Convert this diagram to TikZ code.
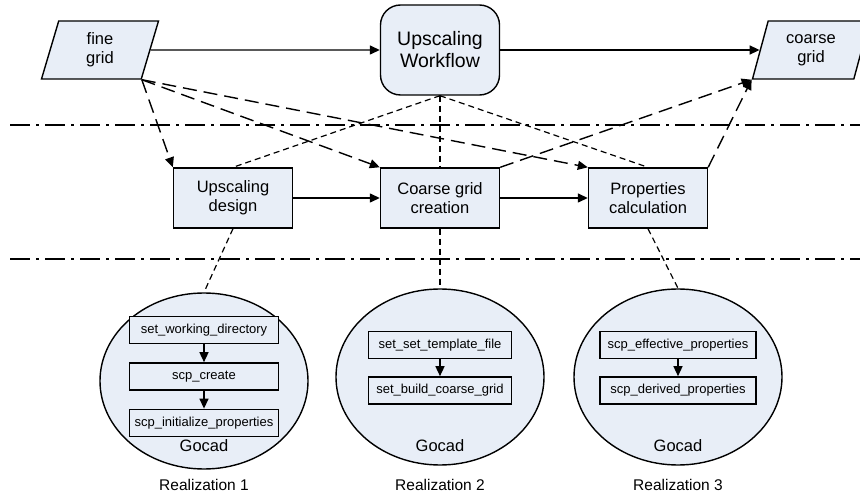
\documentclass[tikz,border=0pt]{standalone}
\usepackage{fontspec}
\setmainfont{Liberation Sans}
\usetikzlibrary{shapes.geometric, arrows.meta, positioning}

\definecolor{boxfill}{RGB}{232,238,247}

\begin{document}
\begin{tikzpicture}[x=1pt, y=-1pt, >={Triangle[length=10pt,width=9pt]}, line width=1.4pt]
    % Styles
    \tikzstyle{io} = [draw, trapezium, trapezium left angle=63.4, trapezium right angle=116.6, trapezium stretches body, fill=boxfill, minimum width=117pt, minimum height=58pt, inner sep=0pt, align=center, font=\fontsize{16.5}{19}\selectfont]
    \tikzstyle{flow} = [draw, rectangle, rounded corners=20pt, fill=boxfill, minimum width=119pt, minimum height=90pt, align=center, font=\fontsize{19.5}{22}\selectfont]
    \tikzstyle{proc} = [draw, rectangle, fill=boxfill, minimum width=119pt, minimum height=60pt, align=center, font=\fontsize{16.5}{19}\selectfont]
    \tikzstyle{realiz} = [draw, ellipse, fill=boxfill, minimum width=208pt, minimum height=176pt, inner sep=0pt]
    \tikzstyle{task} = [draw, rectangle, fill=boxfill, minimum height=27pt, inner sep=0pt, font=\fontsize{13}{15}\selectfont]
    \tikzstyle{tool} = [font=\fontsize{16.5}{19}\selectfont]
    \tikzstyle{caption} = [font=\fontsize{15.5}{18}\selectfont]
    \tikzstyle{data} = [dash pattern=on 14pt off 7pt]
    \tikzstyle{link} = [line width=1.2pt, dash pattern=on 6pt off 4pt]
    \tikzstyle{level} = [dash pattern=on 20pt off 6pt on 3pt off 6pt]

    \useasboundingbox (0,0) rectangle (860,497);

    % Top level
    \node (fine) [io] at (100,50) {fine\\grid};
    \node (flow) [flow] at (440,50) {Upscaling\\Workflow};
    \node (coarse) [io] at (811,50) {coarse\\grid};

    % Middle level
    \node (design) [proc] at (233,198) {Upscaling\\design};
    \node (create) [proc] at (440,198) {Coarse grid\\creation};
    \node (props) [proc] at (648,198) {Properties\\calculation};

    % Realizations
    \node (real1) [realiz] at (204,381) {};
    \node (real2) [realiz] at (440,377) {};
    \node (real3) [realiz] at (678,377) {};

    \node (wdir) [task, minimum width=149pt] at (204,330) {set\_working\_directory};
    \node (scpc) [task, minimum width=149pt, below=18pt of wdir] {scp\_create};
    \node (init) [task, minimum width=149pt, below=18pt of scpc] {scp\_initialize\_properties};
    \node (gocad1) [tool] at (204,446) {Gocad};
    \node (cap1) [caption] at (204,485) {Realization 1};

    \node (tmpl) [task, minimum width=143pt] at (440,345) {set\_set\_template\_file};
    \node (build) [task, minimum width=143pt, below=17pt of tmpl] {set\_build\_coarse\_grid};
    \node (gocad2) [tool] at (440,446) {Gocad};
    \node (cap2) [caption] at (440,485) {Realization 2};

    \node (eff) [task, minimum width=156pt] at (678,345) {scp\_effective\_properties};
    \node (der) [task, minimum width=156pt, below=17pt of eff] {scp\_derived\_properties};
    \node (gocad3) [tool] at (678,446) {Gocad};
    \node (cap3) [caption] at (678,485) {Realization 3};

    % Level separators
    \coordinate (top left) at (10,125);
    \coordinate (top right) at (860,125);
    \coordinate (mid left) at (10,259);
    \coordinate (mid right) at (860,259);
    \draw [level] (top left) -- (top right);
    \draw [level] (mid left) -- (mid right);

    % Main flow
    \draw [->] (fine) -- (flow);
    \draw [->] (flow) -- (coarse);
    \draw [->] (design) -- (create);
    \draw [->] (create) -- (props);

    % Data links
    \draw [->, data] (fine.bottom right corner) -- (design.north west);
    \draw [->, data] (fine.bottom right corner) -- (create.north west);
    \draw [->, data] (fine.bottom right corner) -- (props.north west);
    \draw [->, data] (create.north east) -- (coarse.bottom left corner);
    \draw [->, data] (props.north east) -- (coarse.bottom left corner);

    % Refinement links
    \draw [link] (flow.south) -- (design.north);
    \draw [link] (flow.south) -- (create.north);
    \draw [link] (flow.south) -- (props.north);
    \draw [link] (design.south) -- (real1.north);
    \draw [link] (create.south) -- (real2.north);
    \draw [link] (props.south) -- (real3.north);

    % Inside the realizations
    \draw [->] (wdir) -- (scpc);
    \draw [->] (scpc) -- (init);
    \draw [->] (tmpl) -- (build);
    \draw [->] (eff) -- (der);

\end{tikzpicture}
\end{document}
